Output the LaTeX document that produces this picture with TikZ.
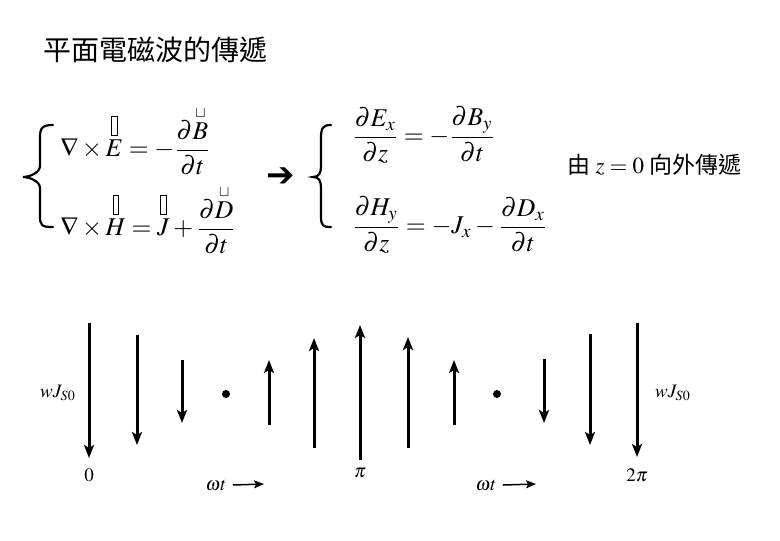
\documentclass[tikz,border=0pt]{standalone}
\usepackage{amsmath}
\usepackage{mathptmx}
\usepackage{fontspec}
\newfontfamily\cjk{Noto Sans CJK TC}
\newfontfamily\dejavu{DejaVu Sans}
\usetikzlibrary{arrows.meta}
\newcommand\tbox{{\setlength\fboxsep{0pt}\setlength\fboxrule{0.4pt}\fbox{\rule{0pt}{9pt}\hspace{2.4pt}}}}
\newcommand\ubox{\scriptscriptstyle\sqcup}
\tikzset{
  eqn/.style={anchor=west,inner sep=0pt,font=\fontsize{12.8}{15}\selectfont},
  bracepath/.style={line width=1.1pt,line cap=round},
  vec/.style={line width=1.5pt,-{Stealth[length=6.5pt,width=5pt,inset=1.5pt]}},
  lbl/.style={inner sep=0pt,font=\fontsize{9.5}{11}\selectfont},
  wtarrow/.style={line width=0.75pt,-{Stealth[length=5pt,width=4pt,inset=1pt]}},
  dotmark/.style={circle,fill=black,inner sep=0pt,minimum size=4pt}
}
\newcommand\drawbrace[4]{% #1 top x, #2 vertical x, #3 tip x
  \draw[bracepath] (#1,125) .. controls (#2+2,125) and (#2,128) .. (#2,138)
    -- (#2,166) .. controls (#2,173) and (#3+6,177) .. (#3,177)
    .. controls (#3+6,177) and (#2,181) .. (#2,188)
    -- (#2,216) .. controls (#2,226) and (#2+2,227) .. (#1,227);
}
\begin{document}
\begin{tikzpicture}[x=0.5pt,y=-0.5pt]
\useasboundingbox (0,0) rectangle (780,540);
% title
\node[anchor=west,inner sep=0pt,font=\cjk\fontsize{14}{15}\selectfont] (title) at (43,50) {平面電磁波的傳遞};
% left system
\drawbrace{53}{40}{23}{}
\node[eqn] (eq1) at (60,141) {$\displaystyle \nabla\times\overset{\tbox}{E} = -\frac{\partial \overset{\ubox}{B}}{\partial t}$};
\node[eqn] (eq2) at (60,220) {$\displaystyle \nabla\times\overset{\tbox}{H} = \overset{\tbox}{J} + \frac{\partial\overset{\ubox}{D}}{\partial t}$};
% arrow
\node[inner sep=0pt,font=\dejavu\bfseries\fontsize{17}{18}\selectfont] (imp) at (281,177) {➔};
% right system
\drawbrace{331}{321}{313}{}
\node[eqn] (eq3) at (352,135) {$\displaystyle \frac{\partial E_x}{\partial z} = -\frac{\partial B_y}{\partial t}$};
\node[eqn] (eq4) at (352,225) {$\displaystyle \frac{\partial H_y}{\partial z} = -J_x - \frac{\partial D_x}{\partial t}$};
% right text
\node[anchor=west,inner sep=0pt,font=\cjk\fontsize{11.5}{12}\selectfont] (prop) at (567,165) {由 $z=0$ 向外傳遞};
% arrows
\foreach \i/\x/\ya/\yb in {1/89/323/458, 2/137/335/445, 3/182/360/423,
  4/269/425/360, 5/314/448/338, 6/360/460/325, 7/408/448/337, 8/454/425/360,
  9/544/359/423, 10/590/334/445, 11/637/323/457}{
  \coordinate (s\i) at (\x,\ya);
  \coordinate (e\i) at (\x,\yb);
  \draw[vec] (s\i) -- (e\i);
}
\node[dotmark] (d1) at (226,394) {};
\node[dotmark] (d2) at (497,394) {};
% labels
\node[lbl] (wj1) at (58,393) {$wJ_{S0}$};
\node[lbl] (wj2) at (673,393) {$wJ_{S0}$};
\node[lbl] (l0) at (89,475) {$0$};
\node[lbl] (lpi) at (360,473) {$\pi$};
\node[lbl] (l2pi) at (637,475) {$2\pi$};
\node[lbl] (wt1) at (216,485) {$\omega t$};
\node[lbl] (wt2) at (486,485) {$\omega t$};
\coordinate (wt1e) at (264,484);
\coordinate (wt2e) at (536,484);
\draw[wtarrow] ([xshift=3pt]wt1.east) -- (wt1e);
\draw[wtarrow] ([xshift=3pt]wt2.east) -- (wt2e);
\end{tikzpicture}
\end{document}
